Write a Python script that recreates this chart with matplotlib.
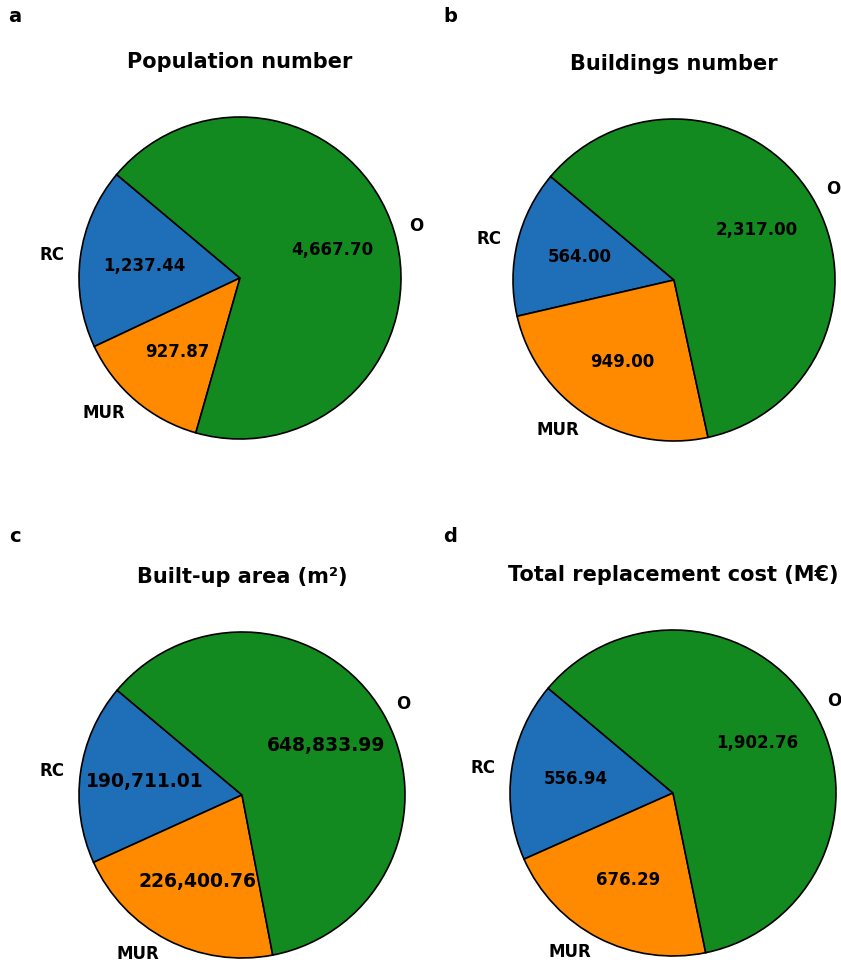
import matplotlib.pyplot as plt

# building classes shown in every pie
categories = ["RC", "MUR", "O"]
colors = ["#1f6fb8", "#ff8a00", "#138a1f"]

population = [1237.44, 927.87, 4667.70]
buildings = [564.00, 949.00, 2317.00]
built_area = [190711.01, 226400.76, 648833.99]
replacement_cost = [556.94, 676.29, 1902.76]

titles = ["Population number", "Buildings number",
          "Built-up area (m\u00b2)", "Total replacement cost (M\u20ac)"]
panel_letters = ["a", "b", "c", "d"]


def value_label(values):
    # autopct is called once per wedge, in order: print the raw value
    it = iter(values)
    return lambda pct: f"{next(it):,.2f}"


W, H = 841, 966
fig = plt.figure(figsize=(W / 100, H / 100), dpi=100)
fig.patch.set_facecolor("white")

# pie centres and radii in pixels (x from left, y from top)
panels = [
    (population, 240, 278, 161, 12),
    (buildings, 674, 280, 161, 12),
    (built_area, 242, 795, 163, 13.5),
    (replacement_cost, 673, 793, 163, 12),
]

for i, (values, cx, cy, r, vsize) in enumerate(panels):
    side = 2.5 * r
    ax = fig.add_axes([(cx - side / 2) / W, 1 - (cy + side / 2) / H,
                       side / W, side / H])
    ax.pie(values, labels=categories, colors=colors, startangle=140,
           autopct=value_label(values),
           wedgeprops=dict(edgecolor="black", linewidth=1.2),
           textprops=dict(fontweight="bold", fontsize=12),
           labeldistance=1.1, pctdistance=0.6)
    for t in ax.texts[1::2]:
        t.set_fontsize(vsize)
    ax.set_title(titles[i], fontsize=15, fontweight="bold", pad=6)

letter_pos = [(15, 17), (450, 17), (15, 537), (450, 537)]
for letter, (x, y) in zip(panel_letters, letter_pos):
    fig.text(x / W, 1 - y / H, letter, fontsize=14, fontweight="bold",
             ha="center", va="center")

fig.savefig("out.png", dpi=100)
